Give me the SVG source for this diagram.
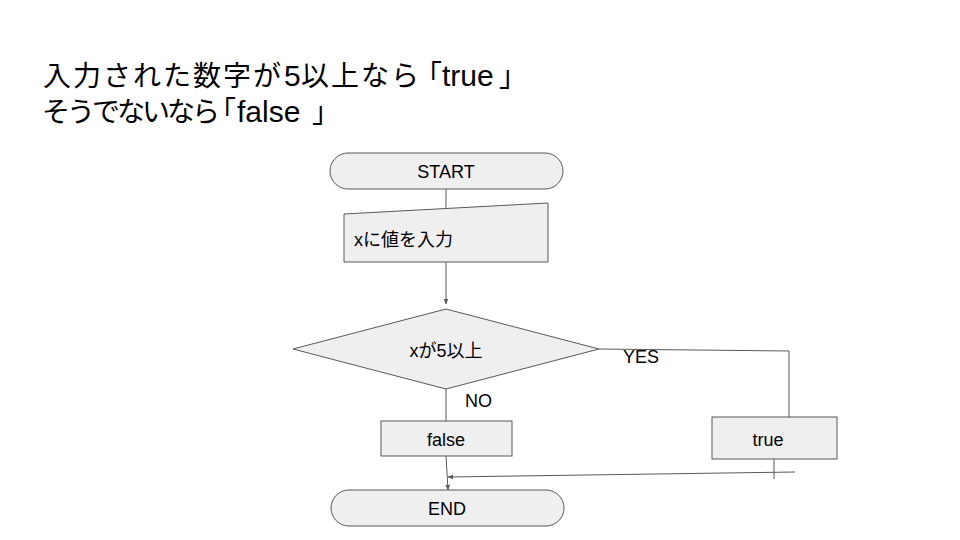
<svg xmlns="http://www.w3.org/2000/svg" width="960" height="540" viewBox="0 0 960 540">
<style>
.shape{fill:#efefef;stroke:#595959;stroke-width:1}
.lbl{font-family:"Liberation Sans","Noto Sans CJK JP",sans-serif;font-size:18px;fill:#000;text-anchor:middle}
.lblL{font-family:"Liberation Sans","Noto Sans CJK JP",sans-serif;font-size:18px;fill:#000}
.title{font-family:"Liberation Sans","Noto Sans CJK JP",sans-serif;font-size:28px;fill:#000}
.lat{font-size:30px}
.conn{fill:none;stroke:#595959;stroke-width:1}
</style>
<defs>
<marker id="arr" viewBox="0 0 10 10" refX="9" refY="5" markerWidth="6" markerHeight="6" orient="auto">
<path d="M0,1 L10,5 L0,9 z" fill="#595959"/>
</marker>
</defs>
<rect width="960" height="540" fill="#fff"/>
<text class="title" y="86" x="43 73 103 133 163 193 223 253 284 301 331 361 391 414">入力された数字が<tspan class="lat">5</tspan>以上なら「<tspan class="lat" x="442">true</tspan><tspan x="499">」</tspan></text>
<text class="title" y="122" x="42 67 92 117 142 167 192 208">そうでないなら「<tspan class="lat" x="237">false</tspan><tspan x="312">」</tspan></text>
<g id="connectors">
<line class="conn" x1="446" y1="189" x2="446" y2="208"/>
<line class="conn" x1="446" y1="262" x2="446" y2="304" marker-end="url(#arr)"/>
<polyline class="conn" points="599,349 789,351 789,417"/>
<line class="conn" x1="446" y1="389" x2="446" y2="421"/>
<line class="conn" x1="446" y1="456" x2="448" y2="490" marker-end="url(#arr)"/>
<line class="conn" x1="774" y1="459" x2="774" y2="479"/>
<line class="conn" x1="795" y1="472" x2="448" y2="477" marker-end="url(#arr)"/>
<text class="lblL" x="623" y="363">YES</text>
<text class="lblL" x="465" y="407">NO</text>
</g>
<g id="start">
<rect class="shape" x="330" y="153" width="233" height="36" rx="18" ry="18"/>
<text class="lbl" x="446" y="178">START</text>
</g>
<g id="input">
<path class="shape" d="M344,214 L548,203 L548,262 L344,262 z"/>
<text class="lblL" x="354" y="246">xに値を入力</text>
</g>
<g id="decision">
<path class="shape" d="M293,349 L446,309 L599,349 L446,389 z"/>
<text class="lbl" x="446" y="357">xが5以上</text>
</g>
<g id="false">
<rect class="shape" x="381" y="421" width="131" height="35"/>
<text class="lbl" x="446" y="446">false</text>
</g>
<g id="true">
<rect class="shape" x="712" y="417" width="125" height="42"/>
<text class="lbl" x="768" y="446">true</text>
</g>
<g id="end">
<rect class="shape" x="331" y="490" width="233" height="36" rx="18" ry="18"/>
<text class="lbl" x="447" y="515">END</text>
</g>
</svg>
